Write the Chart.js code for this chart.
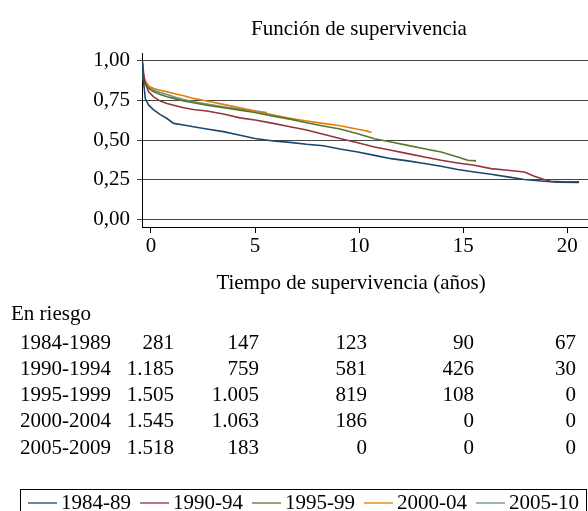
<!DOCTYPE html>
<html>
<head>
<meta charset="utf-8">
<script src="https://cdn.jsdelivr.net/npm/chart.js@4.4.1/dist/chart.umd.min.js"></script>
<style>
  html, body { margin: 0; padding: 0; background: #fff; }
  #wrap { width: 588px; height: 511px; }
</style>
</head>
<body>
<div id="wrap"><canvas id="km" width="588" height="511"></canvas></div>
<script>
// Kaplan-Meier curves (time in years, survival)
const t1984 = [-0.42, -0.35, -0.27, -0.11, 0.13, 0.45, 0.77, 1.09, 1.57, 2.04, 2.68, 3.48, 4.28, 5.0, 5.88, 6.68, 7.48, 8.28, 9.08, 9.94, 10.74, 11.54, 12.34, 13.14, 13.94, 14.74, 15.54, 16.34, 17.14, 17.94, 18.89, 19.53, 20.57];
const s1984 = [1.0, 0.86, 0.76, 0.72, 0.69, 0.66, 0.636, 0.605, 0.595, 0.584, 0.57, 0.553, 0.53, 0.51, 0.494, 0.485, 0.473, 0.464, 0.443, 0.424, 0.403, 0.382, 0.368, 0.351, 0.334, 0.313, 0.298, 0.284, 0.267, 0.25, 0.239, 0.233, 0.231];

const t1990 = [-0.42, -0.35, -0.27, -0.11, 0.13, 0.45, 0.77, 1.09, 1.57, 2.04, 2.68, 3.48, 4.28, 5.0, 5.88, 6.68, 7.48, 8.28, 9.08, 9.94, 10.74, 11.54, 12.34, 13.14, 13.94, 14.74, 15.54, 16.34, 17.14, 17.94, 18.42, 18.89, 19.21, 19.85, 20.57];
const s1990 = [1.0, 0.92, 0.857, 0.805, 0.773, 0.746, 0.731, 0.72, 0.704, 0.693, 0.683, 0.664, 0.64, 0.626, 0.605, 0.584, 0.563, 0.536, 0.51, 0.483, 0.456, 0.435, 0.414, 0.393, 0.372, 0.355, 0.34, 0.319, 0.309, 0.298, 0.271, 0.25, 0.239, 0.235, 0.235];

const t1995 = [-0.42, -0.35, -0.11, 0.13, 0.45, 0.77, 1.09, 1.57, 2.04, 2.68, 3.48, 4.28, 5.0, 5.88, 6.68, 7.48, 8.28, 9.08, 9.94, 10.3, 10.74, 11.54, 12.34, 13.14, 13.94, 14.74, 15.22, 15.62];
const s1995 = [1.0, 0.87, 0.826, 0.805, 0.788, 0.773, 0.763, 0.746, 0.735, 0.72, 0.704, 0.689, 0.674, 0.651, 0.632, 0.609, 0.588, 0.569, 0.54, 0.525, 0.508, 0.487, 0.466, 0.445, 0.424, 0.393, 0.372, 0.368];

const t2000 = [-0.42, -0.35, -0.11, 0.13, 0.45, 0.77, 1.09, 1.57, 2.04, 2.68, 3.48, 4.28, 5.0, 5.88, 6.68, 7.48, 8.28, 9.08, 9.88, 10.2, 10.4, 10.6];
const s2000 = [1.0, 0.89, 0.842, 0.826, 0.815, 0.805, 0.794, 0.78, 0.763, 0.746, 0.725, 0.704, 0.683, 0.658, 0.637, 0.62, 0.605, 0.59, 0.569, 0.562, 0.556, 0.548];

const t2005 = [-0.42, -0.35, -0.11, 0.13, 0.45, 0.77, 1.09, 1.57, 2.04, 2.68, 3.48, 4.28, 5.0, 5.56];
const s2005 = [1.0, 0.87, 0.832, 0.815, 0.80, 0.788, 0.773, 0.756, 0.742, 0.727, 0.71, 0.695, 0.683, 0.674];

const seriesNames = ['1984-89', '1990-94', '1995-99', '2000-04', '2005-10'];
const seriesColors = ['#1a476f', '#90353b', '#55752f', '#e37e00', '#6e8e84'];

const xTicks = [0, 5, 10, 15, 20];
const yTicks = [0, 0.25, 0.5, 0.75, 1];

// numbers at risk
const riskGroups = ['1984-1989', '1990-1994', '1995-1999', '2000-2004', '2005-2009'];
const risk1984 = ['281', '147', '123', '90', '67'];
const risk1990 = ['1.185', '759', '581', '426', '30'];
const risk1995 = ['1.505', '1.005', '819', '108', '0'];
const risk2000 = ['1.545', '1.063', '186', '0', '0'];
const risk2005 = ['1.518', '183', '0', '0', '0'];

const FONT = "'Liberation Serif', 'Times New Roman', serif";

function pts(t, s) {
    return t.map(function(v, i) { return { x: v, y: s[i] }; });
}

const curves = [[t1984, s1984], [t1990, s1990], [t1995, s1995], [t2000, s2000], [t2005, s2005]];

const datasets = curves.map(function(c, i) {
    return {
        label: seriesNames[i],
        data: pts(c[0], c[1]),
        borderColor: seriesColors[i],
        borderWidth: 1.6,
        pointRadius: 0,
        fill: false,
        tension: 0,
        order: i === 4 ? 10 : i
    };
});

// title, axis title, risk table and framed legend
const extras = {
    id: 'extras',
    afterDraw: function(chart) {
        const ctx = chart.ctx;
        ctx.save();
        ctx.fillStyle = '#000';
        ctx.font = '21px ' + FONT;
        ctx.textBaseline = 'middle';

        ctx.textAlign = 'center';
        ctx.fillText('Función de supervivencia', 359, 29);
        ctx.fillText('Tiempo de supervivencia (años)', 351, 283);

        ctx.textAlign = 'left';
        ctx.fillText('En riesgo', 11, 314);

        const rows = [risk1984, risk1990, risk1995, risk2000, risk2005];
        const colRight = [174, 259, 367, 474, 576];
        rows.forEach(function(r, i) {
            const y = 343 + i * 26.3;
            ctx.textAlign = 'left';
            ctx.fillText(riskGroups[i], 20, y);
            ctx.textAlign = 'right';
            r.forEach(function(v, j) { ctx.fillText(v, colRight[j], y); });
        });

        // legend frame
        ctx.strokeStyle = '#000';
        ctx.lineWidth = 1;
        ctx.strokeRect(20.5, 489.5, 566, 40);
        let x = 28;
        const ly = 503;
        ctx.textAlign = 'left';
        seriesNames.forEach(function(n, i) {
            ctx.strokeStyle = seriesColors[i];
            ctx.lineWidth = 1.3;
            ctx.beginPath();
            ctx.moveTo(x, ly);
            ctx.lineTo(x + 29, ly);
            ctx.stroke();
            x += 33;
            ctx.fillText(n, x, ly);
            x += ctx.measureText(n).width + 9;
        });
        ctx.restore();
    }
};

new Chart(document.getElementById('km'), {
    type: 'line',
    data: { datasets: datasets },
    options: {
        responsive: false,
        animation: false,
        devicePixelRatio: 1,
        layout: { padding: { top: 53, right: 0, left: 0, bottom: 0 } },
        plugins: {
            legend: { display: false },
            title: { display: false },
            tooltip: { enabled: false }
        },
        scales: {
            x: {
                type: 'linear',
                min: -0.43,
                max: 21,
                afterBuildTicks: function(s) { s.ticks = xTicks.map(function(v) { return { value: v }; }); },
                afterFit: function(s) { s.height = 284; },
                grid: { drawOnChartArea: false, drawTicks: true, tickLength: 6, color: '#000' },
                border: { display: true, color: '#000', width: 1 },
                ticks: {
                    font: { family: FONT, size: 21 },
                    color: '#000',
                    padding: 1,
                    maxRotation: 0,
                    callback: function(v) { return String(v); }
                }
            },
            y: {
                type: 'linear',
                min: -0.05,
                max: 1.05,
                afterBuildTicks: function(s) { s.ticks = yTicks.map(function(v) { return { value: v }; }); },
                afterFit: function(s) { s.width = 142; },
                grid: { drawOnChartArea: true, drawTicks: true, tickLength: 5, color: '#444', lineWidth: 1 },
                border: { display: true, color: '#000', width: 1 },
                ticks: {
                    font: { family: FONT, size: 21 },
                    color: '#000',
                    padding: 7,
                    callback: function(v) { return v.toFixed(2).replace('.', ','); }
                }
            }
        }
    },
    plugins: [extras]
});
</script>
</body>
</html>
